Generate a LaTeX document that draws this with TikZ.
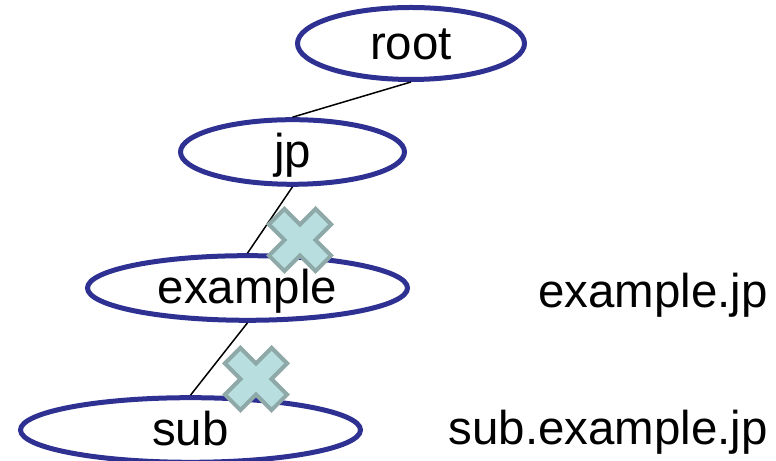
\documentclass[tikz,border=0pt]{standalone}
\usepackage{fontspec}
\setmainfont{Liberation Sans}
\usetikzlibrary{shapes.geometric}

\definecolor{zoneblue}{HTML}{2E3192}
\definecolor{crossfill}{HTML}{B8DEE0}
\definecolor{crossline}{HTML}{8FA9A9}

\tikzset{
  zone/.style={ellipse, draw=zoneblue, line width=0.1cm, inner sep=0pt,
    text height=22pt, text depth=4pt, font=\fontsize{27}{32}\selectfont},
  dnsname/.style={anchor=east, inner sep=0pt, font=\fontsize{27}{32}\selectfont},
  edge/.style={line width=0.03cm},
  crossmark/.style={draw=crossline, fill=crossfill, line width=0.08cm, line join=miter},
  blocked/.pic={
    \draw[crossmark, rotate=45] (-0.22,0.66) -- (0.22,0.66) -- (0.22,0.22) -- (0.66,0.22)
      -- (0.66,-0.22) -- (0.22,-0.22) -- (0.22,-0.66) -- (-0.22,-0.66) -- (-0.22,-0.22)
      -- (-0.66,-0.22) -- (-0.66,0.22) -- (-0.22,0.22) -- cycle;
  }
}

\begin{document}
\begin{tikzpicture}
	\useasboundingbox (0,0) rectangle (15.52,9.22);
	
	% Zones of the tree
	\node[zone, minimum width=4.54cm, minimum height=1.44cm] (root) at (8.22,8.35) {root};
	\node[zone, minimum width=4.48cm, minimum height=1.26cm] (jp) at (5.85,6.18) {jp};
	\node[zone, minimum width=6.4cm, minimum height=1.22cm] (example) at (4.95,3.46) {example};
	\node[zone, minimum width=6.8cm, minimum height=1.1cm] (sub) at (3.81,0.62) {sub};
	
	% Domain names
	\node[dnsname] (examplejp) at (15.36,3.32) {example.jp};
	\node[dnsname] (subexamplejp) at (15.36,0.58) {sub.example.jp};
	
	% Edges
	\draw[edge] (root.south) -- (jp.north);
	\draw[edge] (jp.south) -- (example.north);
	\draw[edge] (example.south) -- (sub.north);
	
	% Cut delegations
	\pic at (6.0,4.42) {blocked};
	\pic at (5.12,1.64) {blocked};
	
\end{tikzpicture}
\end{document}
